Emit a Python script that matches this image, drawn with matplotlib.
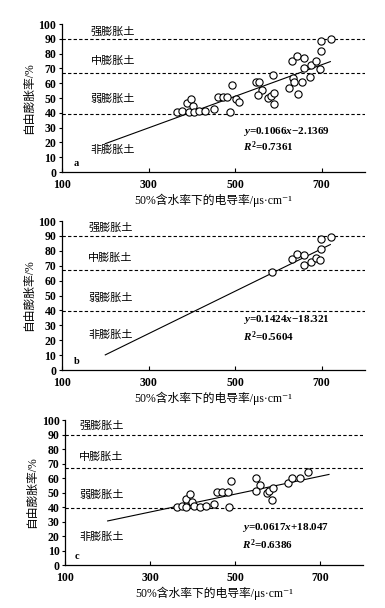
import matplotlib
matplotlib.use("Agg")
import matplotlib.pyplot as plt
import numpy as np

# fonts: serif for numbers, CJK fallback for the Chinese text
plt.rcParams['font.family'] = ['Liberation Serif', 'Noto Sans CJK SC', 'DejaVu Sans']
plt.rcParams['mathtext.fontset'] = 'custom'
plt.rcParams['mathtext.rm'] = 'Liberation Serif:bold'
plt.rcParams['mathtext.it'] = 'Liberation Serif:italic:bold'
plt.rcParams['mathtext.bf'] = 'Liberation Serif:bold'

# Data ------------------------------------------------------------------
# panel a: all samples
a_x = [366, 377, 389, 397, 402, 393, 405, 416, 431, 451, 461, 471, 481, 489,
       493, 501, 509, 548, 555, 563, 552, 576, 583, 587, 590, 589, 625, 632,
       634, 636, 644, 646, 655, 658, 659, 672, 676, 686, 696, 698, 699, 722]
a_y = [40.5, 41.0, 46.4, 49.3, 44.3, 40.7, 40.7, 41.0, 41.0, 42.6, 50.8, 50.8,
       50.5, 40.7, 58.5, 49.6, 47.5, 60.7, 60.6, 55.3, 52.0, 49.7, 51.2, 65.5,
       53.4, 45.8, 56.5, 75.1, 63.6, 60.6, 78.3, 53.0, 60.7, 77.2, 70.6, 64.4,
       72.6, 74.9, 69.5, 81.5, 88.3, 89.6]

# panel b: medium / strong swelling samples
b_x = [585, 632, 644, 658, 658, 676, 686, 696, 698, 699, 722]
b_y = [65.5, 74.5, 77.9, 77.2, 70.5, 72.3, 75.0, 73.8, 81.0, 87.7, 89.0]

# panel c: weak swelling samples
c_x = [363, 375, 384, 394, 398, 384, 404, 416, 431, 451, 457, 468, 482, 486,
       490, 549, 559, 548, 574, 580, 589, 587, 623, 634, 652, 670]
c_y = [40.2, 40.7, 45.5, 49.0, 43.7, 40.2, 40.7, 40.2, 40.7, 41.8, 50.1, 50.1,
       50.1, 39.8, 57.9, 59.8, 55.2, 51.0, 49.4, 51.3, 52.9, 44.8, 56.3, 60.2,
       60.2, 64.4]

# fitted lines (slope, intercept) and R2
fits = [(0.1066, -2.1369, 0.7361), (0.1424, -18.321, 0.5604), (0.0617, 18.047, 0.6386)]
eq_text = ["$y$=0.1066$x$\u22122.1369", "$y$=0.1424$x$\u221218.321", "$y$=0.0617$x$+18.047"]
panel_names = ["a", "b", "c"]

zone_levels = [90, 67, 39.5]
zone_names = ["强膨胀土", "中膨胀土", "弱膨胀土", "非膨胀土"]

xticks = [100, 300, 500, 700]
yticks = list(range(0, 101, 10))
xlabel = "50%含水率下的电导率/μs·cm\u207b\u00b9"
ylabel = "自由膨胀率/%"

# Layout ----------------------------------------------------------------
fig = plt.figure(figsize=(3.85, 6.08), dpi=100)
positions = [[0.161, 0.717, 0.787, 0.2435],
             [0.161, 0.3914, 0.787, 0.2451],
             [0.169, 0.0707, 0.774, 0.2385]]
zone_x = [218, 212, 186]
zone_y = [[95, 75.1, 49.3, 15.4], [95.5, 75.6, 48.8, 23.5], [95.9, 74.7, 48.7, 19.5]]
eq_pos = [(519, 27.6, 17.0), (519, 34.0, 22.4), (515, 25.7, 14.3)]
letter_pos = [(128, 5.5), (128, 6.0), (123, 6.2)]

data = [(a_x, a_y), (b_x, b_y), (c_x, c_y)]

for i in range(3):
    ax = fig.add_axes(positions[i])
    xs, ys = data[i]
    slope, icpt, r2 = fits[i]

    # zone boundaries
    for lv in zone_levels:
        ax.axhline(lv, color='black', lw=0.8, ls=(0, (3, 2)), zorder=1)

    # points
    ax.plot(xs, ys, 'o', ms=5.2, mfc='white', mec='black', mew=0.8, zorder=3)

    # regression line
    lx = np.array([200, 720])
    ax.plot(lx, slope * lx + icpt, color='black', lw=0.8, zorder=2)

    # zone labels
    for name, yy in zip(zone_names, zone_y[i]):
        ax.text(zone_x[i], yy, name, ha='center', va='center', fontsize=8,
                family='Noto Sans CJK SC')

    ex, ey, ry = eq_pos[i]
    ax.text(ex, ey, eq_text[i], ha='left', va='center', fontsize=8, fontweight='bold')
    ax.text(ex, ry, "$R^2$=%.4f" % r2, ha='left', va='center', fontsize=8, fontweight='bold')
    ax.text(letter_pos[i][0], letter_pos[i][1], panel_names[i], ha='left', va='center',
            fontsize=7.5, fontweight='bold')

    ax.set_xlim(100, 800)
    ax.set_ylim(0, 100)
    ax.set_xticks(xticks)
    ax.set_yticks(yticks)
    ax.spines['top'].set_visible(False)
    ax.spines['right'].set_visible(False)
    ax.spines['left'].set_linewidth(0.9)
    ax.spines['bottom'].set_linewidth(0.9)
    ax.tick_params(axis='x', direction='in', length=3, width=0.8, pad=5, labelsize=8.5)
    ax.tick_params(axis='y', direction='out', length=2.5, width=0.8, pad=1.5, labelsize=8.5)
    for lab in ax.get_xticklabels() + ax.get_yticklabels():
        lab.set_fontweight('bold')
    ax.set_xlabel(xlabel, fontsize=8.5, labelpad=2)
    ax.set_ylabel(ylabel, fontsize=8.5, labelpad=3)

fig.savefig("out.png", dpi=100)
